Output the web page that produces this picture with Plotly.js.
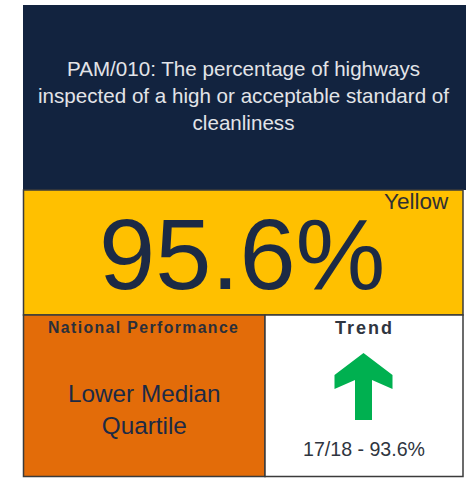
<!DOCTYPE html>
<html>
<head>
<meta charset="utf-8">
<script src="https://cdn.plot.ly/plotly-3.0.1.min.js"></script>
<style>
  html, body { margin: 0; padding: 0; background: #ffffff; }
  #chart { width: 466px; height: 478px; }
</style>
</head>
<body>
<div id="chart"></div>
<script>
// ---- data ----
const indicatorCode = "PAM/010";
const indicatorTitleLines = [
  "The percentage of highways",
  "inspected of a high or acceptable standard of",
  "cleanliness"
];
const currentValue = 95.6;
const valueUnit = "%";
const ragStatus = "Yellow";
const nationalLabel = "National Performance";
const nationalQuartileLines = ["Lower Median", "Quartile"];
const trendLabel = "Trend";
const trendDirection = "up";
const previousPeriod = "17/18";
const previousValue = 93.6;

// ---- colours / styles ----
const NAVY = "#12233f";
const YELLOW = "#ffc000";
const ORANGE = "#e36c09";
const GREEN = "#00b050";
const TEXT_DARK = "#1c2a45";
const BORDER = "#3b3b3b";
const FONT = "Liberation Sans, Arial, sans-serif";

// ---- layout geometry (pixel-like axis units) ----
const L = 23.5, R = 463, TOP = 5, MID1 = 190, MID2 = 315, BOT = 476.5, SPLIT = 265;

function rect(x0, y0, x1, y1, fill, lineColor, lw) {
  return { type: "rect", xref: "x", yref: "y", x0, y0, x1, y1,
           fillcolor: fill, line: { color: lineColor || fill, width: lw || 0 }, layer: "below" };
}

function arrowPath(cx, tipY, dir) {
  // icon geometry relative to centre
  const hw = 29, sw = 8.5, headH = 22, wing = 14, notch = 27, len = 67;
  const s = dir === "up" ? 1 : -1;
  const p = [
    [cx, tipY],
    [cx + hw, tipY + s * headH],
    [cx + hw, tipY + s * (headH + wing)],
    [cx + sw, tipY + s * notch],
    [cx + sw, tipY + s * len],
    [cx - sw, tipY + s * len],
    [cx - sw, tipY + s * notch],
    [cx - hw, tipY + s * (headH + wing)],
    [cx - hw, tipY + s * headH]
  ];
  return "M" + p.map(q => q[0] + "," + q[1]).join(" L") + " Z";
}

const shapes = [
  rect(L - 0.5, TOP, 466, MID1, NAVY),
  rect(L, MID1, R, MID2, YELLOW, BORDER, 1.5),
  rect(L, MID2, SPLIT, BOT, ORANGE, BORDER, 1.5),
  rect(SPLIT, MID2, R, BOT, "#ffffff", BORDER, 1.5),
  { type: "path", xref: "x", yref: "y", path: arrowPath(363.5, 353, trendDirection),
    fillcolor: GREEN, line: { width: 0 }, layer: "above" }
];

function ann(text, x, y, size, color, extra) {
  return Object.assign({ text, x, y, xref: "x", yref: "y", showarrow: false,
    xanchor: "center", yanchor: "middle",
    font: { family: FONT, size, color } }, extra || {});
}

const titleText = [indicatorCode + ": " + indicatorTitleLines[0]].concat(indicatorTitleLines.slice(1)).join("<br>");

const annotations = [
  ann(titleText, 243.5, 95, 20.6, "#e2e4e8"),
  ann(ragStatus, 416, 201, 22.5, "#2f3033"),
  ann(currentValue.toFixed(1) + valueUnit, 242, 254, 101, TEXT_DARK),
  ann("<b><span style=\"letter-spacing:1.4px\">" + nationalLabel + "</span></b>", 143.5, 327.5, 15.8, "#2a2f3a"),
  ann(nationalQuartileLines.join("<br>"), 144.5, 409, 24.3, TEXT_DARK),
  ann("<b><span style=\"letter-spacing:2px\">" + trendLabel + "</span></b>", 364, 328, 18, "#2f3540"),
  ann(previousPeriod + " - " + previousValue.toFixed(1) + valueUnit, 364, 448.5, 19.6, "#2f3540")
];

const layout = {
  width: 466, height: 478,
  margin: { l: 0, r: 0, t: 0, b: 0, pad: 0 },
  paper_bgcolor: "#ffffff", plot_bgcolor: "#ffffff",
  xaxis: { range: [0, 466], visible: false, fixedrange: true },
  yaxis: { range: [478, 0], visible: false, fixedrange: true },
  showlegend: false,
  shapes, annotations
};

Plotly.newPlot("chart", [], layout, { displayModeBar: false, staticPlot: true });
</script>
</body>
</html>
